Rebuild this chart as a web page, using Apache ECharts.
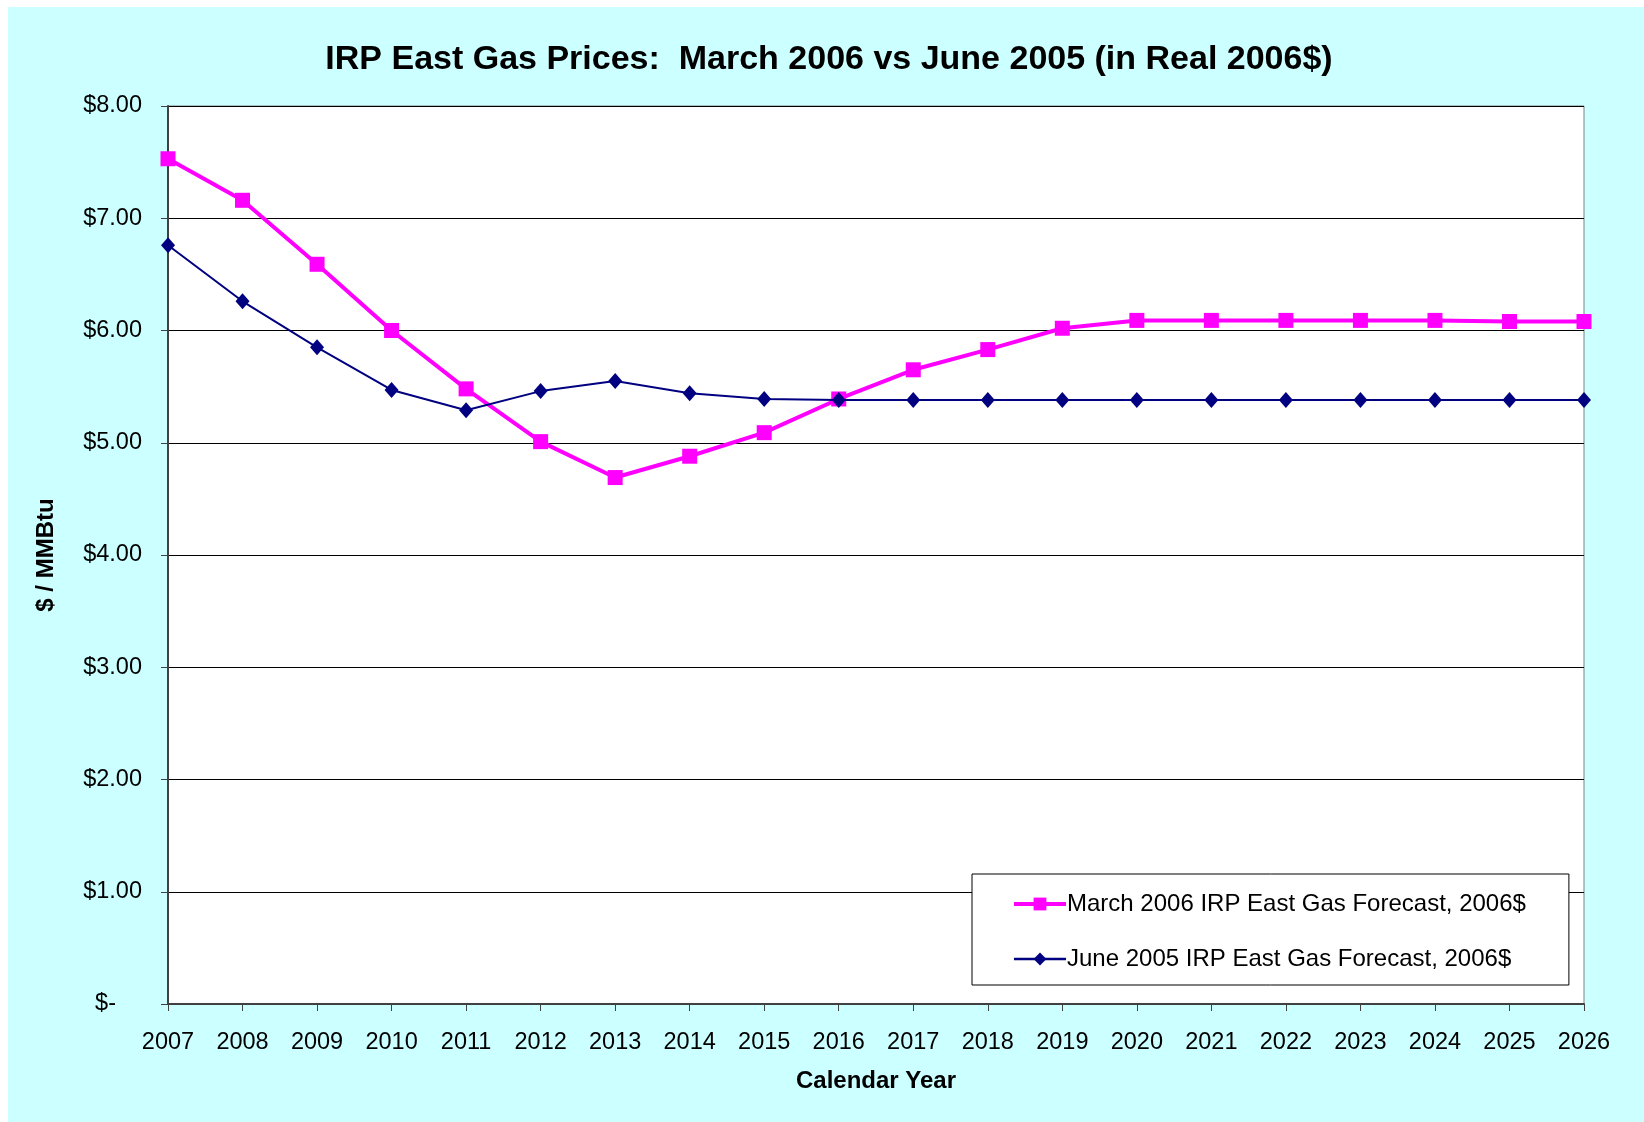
<!DOCTYPE html>
<html>
<head>
<meta charset="utf-8">
<script src="https://cdn.jsdelivr.net/npm/echarts@6/dist/echarts.min.js"></script>
<style>
  html, body { margin: 0; padding: 0; background: #ffffff; }
  #bg { position: absolute; left: 8px; top: 7px; width: 1636px; height: 1115px; background: #ccffff; }
  #chart { position: absolute; left: 0; top: 0; width: 1644px; height: 1122px; }
</style>
</head>
<body>
<div id="bg"></div>
<div id="chart"></div>
<script>
const years = ['2007', '2008', '2009', '2010', '2011', '2012', '2013', '2014', '2015', '2016',
  '2017', '2018', '2019', '2020', '2021', '2022', '2023', '2024', '2025', '2026']

// March 2006 forecast, real 2006$
const march2006 = [7.53, 7.16, 6.59, 6.00, 5.48, 5.01, 4.69, 4.88, 5.09, 5.39,
  5.65, 5.83, 6.02, 6.09, 6.09, 6.09, 6.09, 6.09, 6.08, 6.08]

// June 2005 forecast, real 2006$
const june2005 = [6.76, 6.26, 5.85, 5.47, 5.29, 5.46, 5.55, 5.44, 5.39, 5.38,
  5.38, 5.38, 5.38, 5.38, 5.38, 5.38, 5.38, 5.38, 5.38, 5.38]

const seriesNames = ['March 2006 IRP East Gas Forecast, 2006$', 'June 2005 IRP East Gas Forecast, 2006$']
const font = '"Liberation Sans", Arial, sans-serif'

const chart = echarts.init(document.getElementById('chart'))

const option = {
  backgroundColor: 'transparent',
  animation: false,
  textStyle: { fontFamily: font, color: '#000' },
  title: {
    text: 'IRP East Gas Prices:  March 2006 vs June 2005 (in Real 2006$)',
    left: 829,
    textAlign: 'center',
    top: 43,
    padding: 0,
    textStyle: { fontFamily: font, fontSize: 34, fontWeight: 'bold', color: '#000' }
  },
  legend: {
    data: [
      { name: seriesNames[0], lineStyle: { width: 4 } },
      { name: seriesNames[1], lineStyle: { width: 2.5 } }
    ],
    orient: 'vertical',
    left: 972,
    top: 874,
    padding: [18, 43, 14, 40],
    itemGap: 31,
    itemWidth: 52,
    itemHeight: 16,
    backgroundColor: '#fff',
    borderColor: '#000',
    borderWidth: 1,
    textStyle: { fontFamily: font, fontSize: 24, color: '#000', padding: [0, 0, 0, -4] }
  },
  grid: {
    left: 168,
    right: 60,
    top: 106,
    bottom: 118,
    show: true,
    backgroundColor: '#fff',
    borderColor: '#808080',
    borderWidth: 1
  },
  xAxis: {
    type: 'category',
    data: years,
    boundaryGap: false,
    name: 'Calendar Year',
    nameLocation: 'middle',
    nameGap: 65,
    nameTextStyle: { fontFamily: font, fontSize: 24, fontWeight: 'bold', color: '#000' },
    axisLine: { lineStyle: { color: '#404040', width: 2 } },
    axisTick: { show: true, length: 7, lineStyle: { color: '#404040', width: 1 } },
    axisLabel: { fontFamily: font, fontSize: 23.5, color: '#000', margin: 27 },
    splitLine: { show: false }
  },
  yAxis: {
    type: 'value',
    min: 0,
    max: 8,
    interval: 1,
    name: '$ / MMBtu',
    nameLocation: 'middle',
    nameGap: 110,
    nameTextStyle: { fontFamily: font, fontSize: 24, fontWeight: 'bold', color: '#000' },
    axisLine: { show: true, lineStyle: { color: '#404040', width: 2 } },
    axisTick: { show: true, length: 7, lineStyle: { color: '#404040', width: 1 } },
    axisLabel: {
      fontFamily: font,
      fontSize: 23.5,
      color: '#000',
      margin: 26,
      formatter: v => v === 0 ? '{z|$-}' : '$' + v.toFixed(2),
      rich: { z: { fontFamily: font, fontSize: 23.5, color: '#000', padding: [0, 26, 0, 0] } }
    },
    splitLine: { lineStyle: { color: '#000', width: 1 } }
  },
  series: [
    {
      name: seriesNames[0],
      type: 'line',
      data: march2006,
      symbol: 'rect',
      symbolSize: 15,
      z: 3,
      lineStyle: { color: '#ff00ff', width: 4 },
      itemStyle: { color: '#ff00ff' }
    },
    {
      name: seriesNames[1],
      type: 'line',
      data: june2005,
      symbol: 'diamond',
      symbolSize: [14, 16],
      z: 4,
      lineStyle: { color: '#000080', width: 2 },
      itemStyle: { color: '#000080' }
    }
  ]
}

chart.setOption(option)
</script>
</body>
</html>
